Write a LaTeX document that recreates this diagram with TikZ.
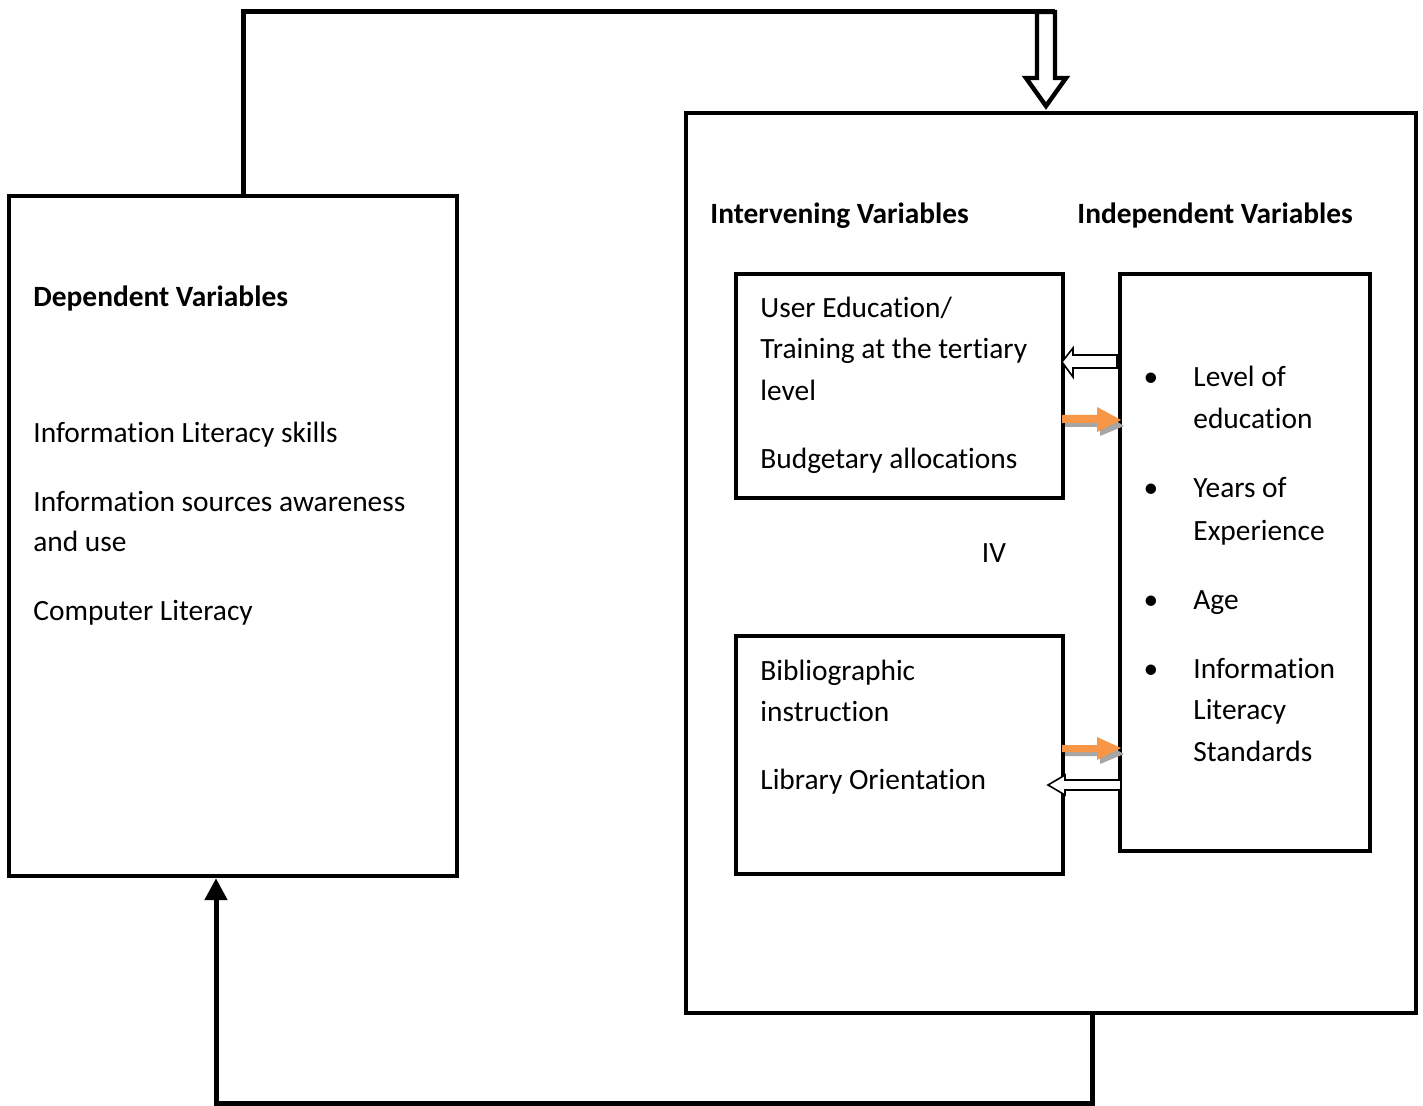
\documentclass[tikz,border=0pt]{standalone}
\usepackage{fontspec}
\setmainfont[Ligatures=NoCommon]{Carlito}
\usetikzlibrary{arrows.meta}
\definecolor{orangeC}{HTML}{F79646}
\definecolor{shadowC}{HTML}{A6A6A6}
\begin{document}
\begin{tikzpicture}[x=0.5pt,y=-0.5pt,
  box/.style={draw, line width=2.2pt, inner sep=0pt, fill=white},
  conn/.style={line width=2.5pt},
  txt/.style={anchor=base west, inner sep=0pt, font=\fontsize{14.7}{21}\selectfont},
  hdr/.style={anchor=base west, inner sep=0pt, font=\fontsize{14.7}{21}\selectfont\bfseries},
  orangearrow/.style={fill=orangeC, draw=none},
  shadowarrow/.style={fill=shadowC, draw=none},
  whitearrow/.style={fill=white, draw=black, line width=0.8pt}]
\useasboundingbox (0,0) rectangle (1423,1106);
\fill[white] (0,0) rectangle (1423,1106);

% boxes
\node[box, minimum width=224pt, minimum height=340pt] (dep) at (233,536) {};
\node[box, minimum width=365pt, minimum height=450pt] (big) at (1051,563) {};
\node[box, minimum width=163.5pt, minimum height=112pt] (intA) at (899.5,386) {};
\node[box, minimum width=163.5pt, minimum height=119pt] (intB) at (899.5,755) {};
\node[box, minimum width=125pt, minimum height=288.5pt] (ind) at (1245,562.5) {};

% top connector with double (outlined) arrow
\coordinate (topL) at (243,12);
\draw[conn] ([xshift=5pt]dep.north) -- (topL) -- (1055,12);
\draw[line width=2.2pt, fill=white, line join=miter]
  (1037,12) -- (1055,12) -- (1055,78) -- (1066,78) -- (1046,106) -- (1026,78) -- (1037,78) -- cycle;

% bottom connector
\coordinate (botR) at (1092,1103);
\draw[conn, -{Triangle[width=11pt,length=11pt]}]
  ([xshift=20.5pt]big.south) -- (botR) -- (216,1103) -- ([xshift=-8.5pt]dep.south);

% block arrows between intervening and independent boxes
% white arrow 1 (to the left)
\draw[whitearrow] (1117,355) -- (1073,355) -- (1073,348) -- (1062,362) -- (1073,377) -- (1073,368) -- (1117,368) -- cycle;
% orange arrow 1 (to the right) with shadow
\fill[shadowarrow] (1065,419) -- (1100,419) -- (1100,411) -- (1124,426) -- (1100,436) -- (1100,427) -- (1065,427) -- cycle;
\fill[orangearrow] (1062,415) -- (1097,415) -- (1097,407) -- (1121,420) -- (1097,432) -- (1097,423) -- (1062,423) -- cycle;
% orange arrow 2 with shadow
\fill[shadowarrow] (1065,749) -- (1100,749) -- (1100,741) -- (1124,754) -- (1100,764) -- (1100,756) -- (1065,756) -- cycle;
\fill[orangearrow] (1062,745) -- (1097,745) -- (1097,737) -- (1121,748) -- (1097,760) -- (1097,752) -- (1062,752) -- cycle;
% white arrow 2 (to the left)
\draw[whitearrow] (1121,780) -- (1065,780) -- (1065,775) -- (1048,785) -- (1065,795) -- (1065,790) -- (1121,790) -- cycle;

% dependent box texts
\node[hdr] (depH) at (33,307) {Dependent Variables};
\node[txt] (d1) at (33,443) {Information Literacy skills};
\node[txt] (d2) at (33,511) {Information sources awareness};
\node[txt] (d3) at (33,552) {and use};
\node[txt] (d4) at (33,620) {Computer Literacy};

% headers in big box
\node[hdr] (intH) at (710,224) {Intervening Variables};
\node[hdr] (indH) at (1077,224) {Independent Variables};

% intervening box A
\node[txt] (a1) at (760,318) {User Education/};
\node[txt] (a2) at (760,359) {Training at the tertiary};
\node[txt] (a3) at (760,401) {level};
\node[txt] (a4) at (760,469) {Budgetary allocations};

% IV
\node[txt, anchor=base] (iv) at (994,562) {IV};

% intervening box B
\node[txt] (b1) at (760,680) {Bibliographic};
\node[txt] (b2) at (760,721) {instruction};
\node[txt] (b3) at (760,789) {Library Orientation};

% independent box
\foreach \y in {387,498,609,678} {
  \node[txt, anchor=base] at (1151,\y) {\textbullet};
}
\node[txt] (c1) at (1193,387) {Level of};
\node[txt] (c2) at (1193,429) {education};
\node[txt] (c3) at (1193,498) {Years of};
\node[txt] (c4) at (1193,540) {Experience};
\node[txt] (c5) at (1193,609) {Age};
\node[txt] (c6) at (1193,678) {Information};
\node[txt] (c7) at (1193,719) {Literacy};
\node[txt] (c8) at (1193,761) {Standards};
\end{tikzpicture}
\end{document}
